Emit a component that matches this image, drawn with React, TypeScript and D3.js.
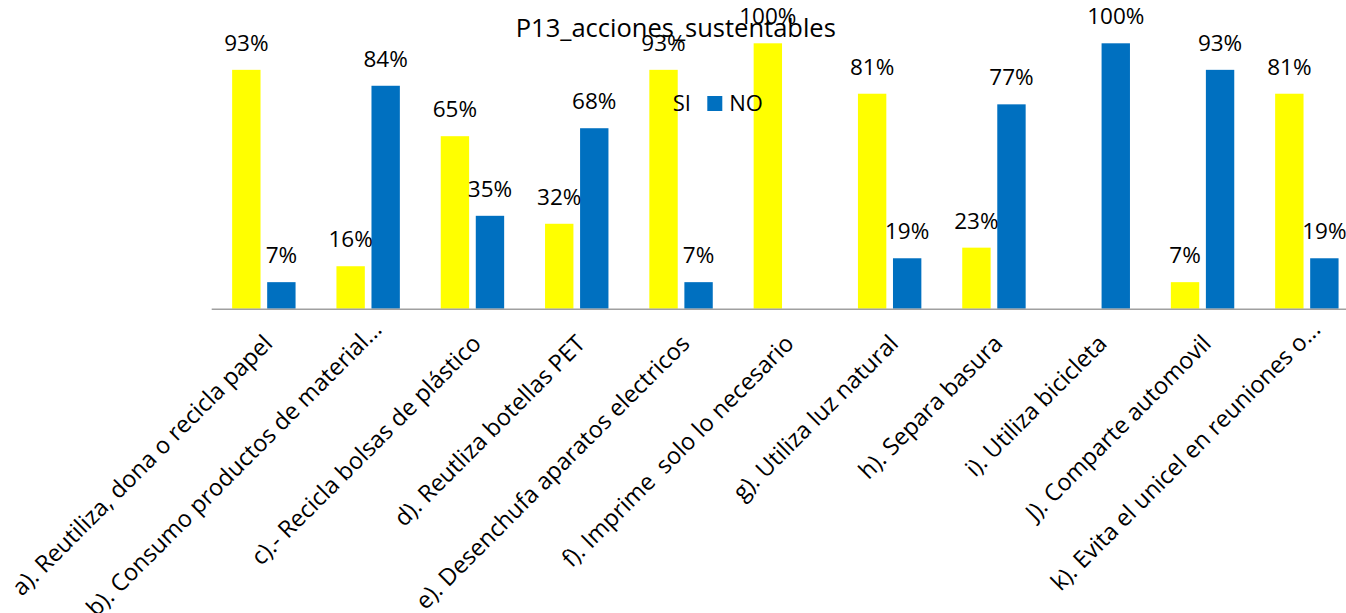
import React from "react";
import * as d3 from "d3";

const categories = [
  "a). Reutiliza, dona o recicla papel",
  "b). Consumo productos de material...",
  "c).- Recicla bolsas de plástico",
  "d). Reutliza botellas PET",
  "e). Desenchufa aparatos electricos",
  "f). Imprime  solo lo necesario",
  "g). Utiliza luz natural",
  "h). Separa basura",
  "i). Utiliza bicicleta",
  "J). Comparte automovil",
  "k). Evita el unicel en reuniones o...",
];
const seriesNames = ["SI", "NO"];
const siValues = [0.9, 0.16, 0.65, 0.32, 0.9, 1.0, 0.81, 0.23, 0, 0.1, 0.81];
const noValues = [0.1, 0.84, 0.35, 0.68, 0.1, 0, 0.19, 0.77, 1.0, 0.9, 0.19];
const siLabels = ["93%", "16%", "65%", "32%", "93%", "100%", "81%", "23%", "", "7%", "81%"];
const noLabels = ["7%", "84%", "35%", "68%", "7%", "", "19%", "77%", "100%", "93%", "19%"];
const title = "P13_acciones_sustentables";

const colors: Record<string, string> = { SI: "#FFFF00", NO: "#0070C0" };

export default function App() {
  const W = 1346;
  const H = 613;
  const left = 211.7;
  const step = 104.3;
  const baseY = 308.7;
  const topY = 43.3;
  const font = "'Open Sans', sans-serif";

  const x0 = d3
    .scaleBand<string>()
    .domain(categories)
    .range([left, left + step * categories.length])
    .paddingInner(0.392)
    .paddingOuter(0.196);
  const x1 = d3
    .scaleBand<string>()
    .domain(seriesNames)
    .range([0, x0.bandwidth()])
    .paddingInner(0.19);
  const y = d3.scaleLinear().domain([0, 1]).range([baseY, topY]);

  const series = [
    { name: "SI", values: siValues, labels: siLabels },
    { name: "NO", values: noValues, labels: noLabels },
  ];

  return (
    <svg
      width={W}
      height={H}
      style={{ position: "absolute", left: 0, top: 0, background: "#fff" }}
      fontFamily={font}
    >
      <rect x={0} y={0} width={W} height={H} fill="#fff" />
      {series.map((s) =>
        categories.map((c, i) =>
          s.values[i] > 0 ? (
            <rect
              key={s.name + i}
              x={(x0(c) as number) + (x1(s.name) as number)}
              y={y(s.values[i])}
              width={x1.bandwidth()}
              height={baseY - y(s.values[i])}
              fill={colors[s.name]}
            />
          ) : null
        )
      )}
      <line x1={left} x2={W} y1={baseY + 0.5} y2={baseY + 0.5} stroke="#a0a0a0" strokeWidth={1.6} />
      {categories.map((c, i) => {
        const cx = (x0(c) as number) + x0.bandwidth() / 2;
        const trunc = c.endsWith("...");
        const ax = cx + (trunc ? 15 : 10);
        const ay = trunc ? 331 : 345;
        return (
          <text
            key={"xl" + i}
            transform={`translate(${ax},${ay}) rotate(-45)`}
            textAnchor="end"
            fontSize={23.5}
            fill="#000"
            style={{ whiteSpace: "pre" }}
          >
            {c}
          </text>
        );
      })}
      {series.map((s) =>
        categories.map((c, i) =>
          s.labels[i] ? (
            <text
              key={"dl" + s.name + i}
              x={(x0(c) as number) + (x1(s.name) as number) + x1.bandwidth() / 2}
              y={y(s.values[i]) - 19}
              textAnchor="middle"
              fontSize={22.5}
              fill="#000"
            >
              {s.labels[i]}
            </text>
          ) : null
        )
      )}
      <text x={675.8} y={36.7} textAnchor="middle" fontSize={25.5} fill="#000">
        {title}
      </text>
      <g>
        <rect x={651} y={96} width={15} height={15} fill={colors.SI} />
        <text x={672.7} y={110.7} fontSize={22} fill="#000">
          SI
        </text>
        <rect x={707.3} y={96} width={15} height={15} fill={colors.NO} />
        <text x={729.3} y={110.7} fontSize={22} fill="#000">
          NO
        </text>
      </g>
    </svg>
  );
}
